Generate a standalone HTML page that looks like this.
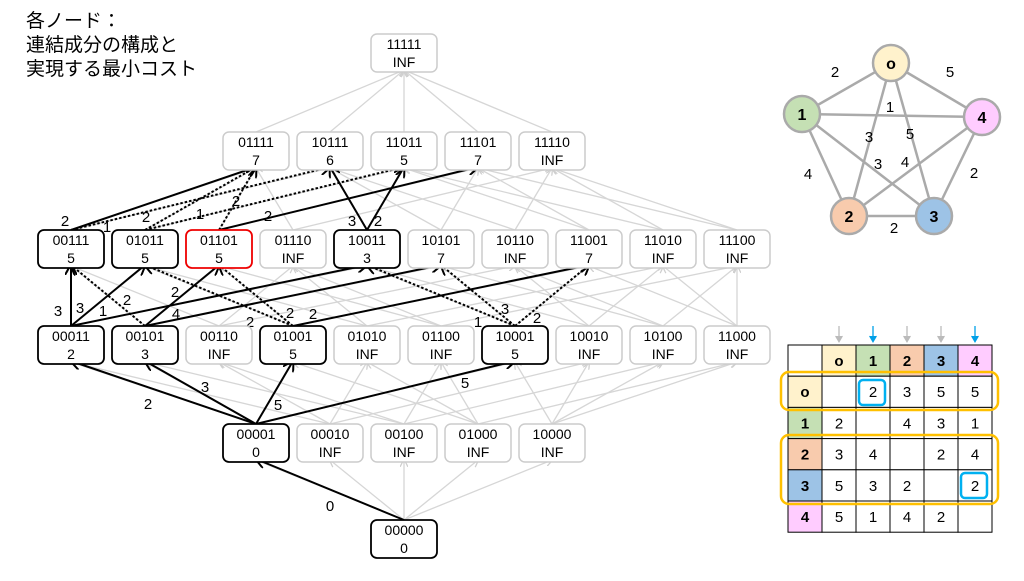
<!DOCTYPE html>
<html><head><meta charset="utf-8"><style>
body{margin:0;width:1024px;height:576px;background:#fff;overflow:hidden;font-family:"Liberation Sans","Noto Sans CJK JP",sans-serif}
svg text{font-family:"Liberation Sans","Noto Sans CJK JP",sans-serif}
</style></head><body>
<svg id="s" width="1024" height="576" xmlns="http://www.w3.org/2000/svg">
<defs>
<marker id="ag" markerWidth="8" markerHeight="8" refX="7" refY="4" orient="auto" markerUnits="userSpaceOnUse"><path d="M0,0 L8,4 L0,8" fill="none" stroke="#cfcfcf" stroke-width="1.3"/></marker>
<marker id="ab" markerWidth="12" markerHeight="12" refX="10" refY="6" orient="auto" markerUnits="userSpaceOnUse"><path d="M0,0 L11,6 L0,12" fill="none" stroke="#000" stroke-width="2"/></marker>
</defs>
<text x="26" y="27" font-size="19">各ノード：</text>
<text x="26" y="51" font-size="19">連結成分の構成と</text>
<text x="26" y="75" font-size="19">実現する最小コスト</text>
<g id="gray"></g><g id="black"></g><g id="nodes"></g>
<!-- graph -->
<g stroke="#aaa" stroke-width="2.5">
<line x1="891" y1="63" x2="802" y2="114"/><line x1="891" y1="63" x2="982" y2="117"/>
<line x1="891" y1="63" x2="849" y2="216"/><line x1="891" y1="63" x2="934" y2="216"/>
<line x1="802" y1="114" x2="982" y2="117"/><line x1="802" y1="114" x2="849" y2="216"/>
<line x1="802" y1="114" x2="934" y2="216"/><line x1="982" y1="117" x2="849" y2="216"/>
<line x1="982" y1="117" x2="934" y2="216"/><line x1="849" y1="216" x2="934" y2="216"/>
</g>
<g stroke="#aaa" stroke-width="2.5" font-weight="bold" font-size="16">
<circle cx="891" cy="63" r="18" fill="#fff2cc"/><circle cx="802" cy="114" r="18" fill="#c5e0b4"/>
<circle cx="982" cy="117" r="18" fill="#ffccff"/><circle cx="849" cy="216" r="18" fill="#f8cbad"/>
<circle cx="934" cy="216" r="18" fill="#9dc3e6"/>
</g>
<g font-size="16" font-weight="bold" text-anchor="middle">
<text x="891" y="69">o</text><text x="802" y="120">1</text><text x="982" y="123">4</text><text x="849" y="222">2</text><text x="934" y="222">3</text>
</g>
<g font-size="15" text-anchor="middle">
<text x="835" y="77">2</text><text x="950" y="77">5</text><text x="890" y="112">1</text><text x="869" y="142">3</text><text x="910" y="139">5</text><text x="878" y="169">3</text><text x="905" y="167">4</text><text x="808" y="179">4</text><text x="974" y="178">2</text><text x="894" y="233">2</text>
</g>
<g id="tbl"></g>
</svg>
<script>
var NS="http://www.w3.org/2000/svg";
function el(p,t,a,txt){var e=document.createElementNS(NS,t);for(var k in a)e.setAttribute(k,a[k]);if(txt!=null)e.textContent=txt;document.getElementById(p).appendChild(e);return e;}
var rows=[
 {y:520,xs:[404],n:["00000"],v:["0"]},
 {y:424,xs:[256,330,404,478,552],n:["00001","00010","00100","01000","10000"],v:["0","INF","INF","INF","INF"]},
 {y:326,xs:[71,145,219,293,367,441,515,589,663,737],n:["00011","00101","00110","01001","01010","01100","10001","10010","10100","11000"],v:["2","3","INF","5","INF","INF","5","INF","INF","INF"]},
 {y:230,xs:[71,145,219,293,367,441,515,589,663,737],n:["00111","01011","01101","01110","10011","10101","10110","11001","11010","11100"],v:["5","5","5","INF","3","7","INF","7","INF","INF"]},
 {y:132,xs:[256,330,404,478,552],n:["01111","10111","11011","11101","11110"],v:["7","6","5","7","INF"]},
 {y:34,xs:[404],n:["11111"],v:["INF"]}];
var pos={},H=38;
rows.forEach(function(r){r.n.forEach(function(n,i){pos[n]={x:r.xs[i],y:r.y,v:r.v[i]};});});
function sub(a,b){for(var i=0;i<5;i++)if(a[i]=='1'&&b[i]!='1')return false;return true;}
for(var k=0;k<5;k++){rows[k].n.forEach(function(a){rows[k+1].n.forEach(function(b){if(sub(a,b)){var A=pos[a],B=pos[b];el("gray","line",{x1:A.x,y1:A.y,x2:B.x,y2:B.y+H-2,stroke:"#d6d6d6","stroke-width":1.3,"marker-end":"url(#ag)"});}});});}
var bl={"00000":1,"00001":1,"00011":1,"00101":1,"01001":1,"10001":1,"00111":1,"01011":1,"10011":1};
for(var n in pos){var p=pos[n];var c=bl[n]?"#000":(n=="01101"?"#e00":"#ccc");var sw=bl[n]||n=="01101"?1.8:1.5;
 el("nodes","rect",{x:p.x-33,y:p.y,width:66,height:H,rx:6,fill:"#fff",stroke:c,"stroke-width":sw});
 el("nodes","text",{x:p.x,y:p.y+15,"font-size":14,"text-anchor":"middle"},n);
 el("nodes","text",{x:p.x,y:p.y+33,"font-size":14,"text-anchor":"middle"},p.v);}
var E=[["00000","00001",0],["00001","00011",0],["00001","00101",0],["00001","01001",0],["00001","10001",0],
["00011","00111",0],["00011","01011",0],["00011","10011",0],["00101","00111",1],["00101","01101",0],["00101","10101",0],
["01001","01011",1],["01001","01101",1],["01001","11001",0],["10001","10011",1],["10001","10101",1],["10001","11001",1],
["00111","01111",0],["00111","10111",1],["01011","01111",1],["01011","11011",1],["01101","01111",1],["01101","11101",0],["10011","10111",0],["10011","11011",0]];
E.forEach(function(e){var A=pos[e[0]],B=pos[e[1]];var a={x1:A.x,y1:A.y,x2:B.x,y2:B.y+H-3,stroke:"#000","stroke-width":2,"marker-end":"url(#ab)"};if(e[2])a["stroke-dasharray"]="2.5,2";el("black","line",a);});
var L=[[330,511,"0"],[148,409,"2"],[205,392,"3"],[278,410,"5"],[465,388,"5"],[58,316,"3"],[80,313,"3"],[103,316,"1"],[127,305,"2"],[175,297,"2"],[176,319,"4"],[250,327,"2"],[290,318,"2"],[313,319,"2"],[478,327,"1"],[505,314,"3"],[537,323,"2"],[65,226,"2"],[107,232,"1"],[146,222,"2"],[200,219,"1"],[236,206,"2"],[268,221,"2"],[352,226,"3"],[378,226,"2"]];
L.forEach(function(l){el("black","text",{x:l[0],y:l[1],"font-size":15,"text-anchor":"middle"},l[2]);});
var tx=788,ty=345,cw=34,rh=31.2,cols=["#fff2cc","#c5e0b4","#f8cbad","#9dc3e6","#ffccff"],lab=["o","1","2","3","4"];
var M=[["","2","3","5","5"],["2","","4","3","1"],["3","4","","2","4"],["5","3","2","","2"],["5","1","4","2",""]];
for(var r=0;r<6;r++)for(var c=0;c<6;c++){var f="#fff";if(r==0&&c>0)f=cols[c-1];if(c==0&&r>0)f=cols[r-1];
 el("tbl","rect",{x:tx+c*cw,y:ty+r*rh,width:cw,height:rh,fill:f,stroke:"#000","stroke-width":1});
 var t="";var bold=false;if(r==0&&c>0){t=lab[c-1];bold=true;}else if(c==0&&r>0){t=lab[r-1];bold=true;}else if(r>0&&c>0)t=M[r-1][c-1];
 if(t)el("tbl","text",{x:tx+c*cw+cw/2,y:ty+r*rh+21,"font-size":15,"text-anchor":"middle","font-weight":bold?"bold":"normal"},t);}
el("tbl","rect",{x:781,y:372,width:217,height:38,rx:8,fill:"none",stroke:"#ffc000","stroke-width":2.5});
el("tbl","rect",{x:781,y:435,width:217,height:69,rx:8,fill:"none",stroke:"#ffc000","stroke-width":2.5});
el("tbl","rect",{x:859,y:380,width:26,height:25,rx:4,fill:"none",stroke:"#00b0f0","stroke-width":2.5});
el("tbl","rect",{x:961,y:473,width:26,height:25,rx:4,fill:"none",stroke:"#00b0f0","stroke-width":2.5});
for(var c=0;c<5;c++){var x=tx+(c+1)*cw+cw/2;var col=(c==1||c==4)?"#00a0e8":"#bbb";
 el("tbl","line",{x1:x,y1:326,x2:x,y2:341,stroke:col,"stroke-width":1.3});
 el("tbl","path",{d:"M"+(x-3.5)+",336 L"+x+",342 L"+(x+3.5)+",336",fill:col,stroke:col,"stroke-width":1});}
</script>
</body></html>
